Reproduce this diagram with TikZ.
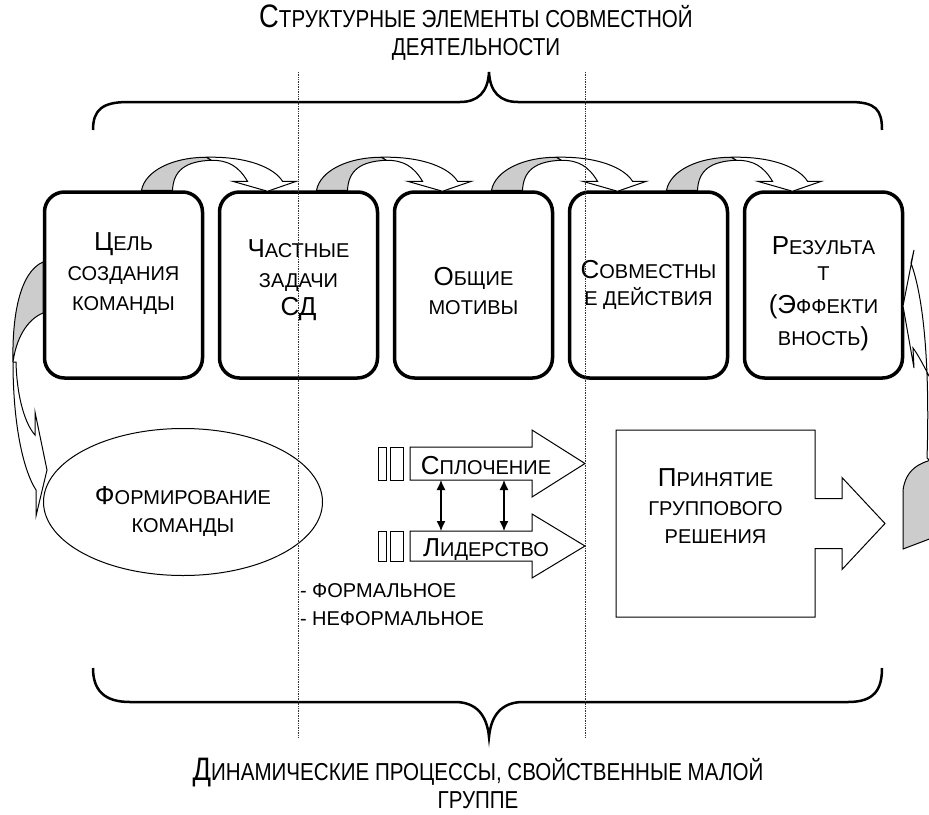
\documentclass[tikz,border=0pt]{standalone}
\usepackage{fontspec}
\setmainfont{Liberation Sans}
\newfontfamily\narrowfont{Liberation Sans}[FakeStretch=0.84]
\usetikzlibrary{arrows.meta}
\usetikzlibrary{calc}
\usetikzlibrary{positioning}
\usetikzlibrary{shapes.geometric}

\newcommand{\capletter}[1]{{\fontsize{26}{26}\selectfont #1}}
\newcommand{\titleletter}[1]{{\fontsize{32.5}{32.5}\selectfont #1}}

\tikzset{
	stage/.style={draw, line width=3.5pt, rounded corners=20pt, minimum width=158pt, minimum height=186pt, inner sep=0pt},
	txt/.style={inner sep=0pt, outer sep=0pt, align=center, font=\fontsize{20}{30}\selectfont},
	heading/.style={inner sep=0pt, align=center, font=\narrowfont\fontsize{24.5}{28}\selectfont},
	outline/.style={line width=1pt},
	backface/.style={outline, fill=gray!40},
	frontface/.style={outline, fill=white},
	bracket/.style={line width=2.5pt},
	guide/.style={densely dotted, line width=0.7pt, black!80},
	link/.style={{Latex[length=10pt,width=9pt]}-{Latex[length=10pt,width=9pt]}, line width=1.2pt},
	hop/.pic={
		\filldraw[backface] (18,0) .. controls (22,-20) and (50,-33) .. (83,-33) -- (88,-30) .. controls (62,-29) and (50,-20) .. (49,0) -- cycle;
		\filldraw[frontface] (83,-33) .. controls (125,-34) and (151,-22) .. (159,-9) -- (173,-9) -- (144,1) -- (109,-9) -- (124,-9) .. controls (115,-24) and (105,-30) .. (88,-30) -- cycle;
	}
}

\begin{document}
\begin{tikzpicture}[x=1pt, y=-1pt]
	\useasboundingbox (0,0) rectangle (929,814);
	\clip (0,0) rectangle (929,814);

	% headings and braces
	\node[heading] (top) at (476,33) {\titleletter{С}ТРУКТУРНЫЕ ЭЛЕМЕНТЫ СОВМЕСТНОЙ\\ДЕЯТЕЛЬНОСТИ};
	\node[heading] (bottom) at (478,783) {\titleletter{Д}ИНАМИЧЕСКИЕ ПРОЦЕССЫ, СВОЙСТВЕННЫЕ МАЛОЙ\\ГРУППЕ};
	\draw[bracket] (93,130) .. controls (93,110) and (102,102) .. (128,102) -- (460,102) .. controls (478,102) and (488,92) .. (489,72) .. controls (490,92) and (500,102) .. (518,102) -- (850,102) .. controls (876,102) and (882,110) .. (882,130);
	\draw[bracket] (93,668) .. controls (93,690) and (104,702) .. (130,702) -- (455,702) .. controls (476,702) and (487,715) .. (489,737) .. controls (491,715) and (502,702) .. (523,702) -- (848,702) .. controls (874,702) and (882,690) .. (882,668);

	% structural elements
	\node[stage] (goal) at (123.5,285) {};
	\node[stage, right=13.5pt of goal] (tasks) {};
	\node[stage, right=13.5pt of tasks] (motives) {};
	\node[stage, right=13.5pt of motives] (actions) {};
	\node[stage, right=13.5pt of actions] (result) {};
	\node[txt] (goaltext) at ($(goal)+(0,-11)$) {\capletter{Ц}ЕЛЬ\\СОЗДАНИЯ\\КОМАНДЫ};
	\node[txt] (taskstext) at ($(tasks)+(0,-5)$) {\capletter{Ч}АСТНЫЕ\\ЗАДАЧИ\\[-2pt]\capletter{СД}};
	\node[txt] (motivestext) at ($(motives)+(0,6)$) {\capletter{О}БЩИЕ\\[-1pt]МОТИВЫ};
	\node[txt] (actionstext) at ($(actions)+(0,0)$) {\capletter{С}ОВМЕСТНЫ\\[-3pt]Е ДЕЙСТВИЯ};
	\node[txt] (resulttext) at ($(result)+(0,9)$) {\capletter{Р}ЕЗУЛЬТА\\[-4pt]Т\\[3pt]\capletter{(Э}ФФЕКТИ\\[2pt]ВНОСТЬ\capletter{)}};
	\foreach \s in {goal,tasks,motives,actions}
		\pic at (\s.north) {hop};

	% side arrows
	\filldraw[frontface] (13,362) .. controls (13,420) and (22,468) .. (36,490) -- (36,516) -- (47,470) -- (35,412) -- (35,435) .. controls (26,425) and (17,400) .. (16,362) -- cycle;
	\filldraw[backface] (43,262) .. controls (20,272) and (12,315) .. (13,362) .. controls (16,340) and (26,320) .. (43,313) -- cycle;
	\filldraw[frontface] (940,470) -- (927,458) .. controls (929,400) and (928,310) .. (911,263) -- (914,250) -- (903,306) -- (914,368) -- (913,348) .. controls (922,360) and (930,380) .. (940,395) -- cycle;
	\filldraw[backface] (903,549) -- (903,490) .. controls (906,470) and (918,462) .. (940,458) -- (940,535) -- cycle;

	% dynamic processes
	\node[draw, outline, ellipse, minimum width=279pt, minimum height=147pt, inner sep=0pt] (forming) at (183,502) {};
	\node[txt, font=\fontsize{20}{28}\selectfont] (formingtext) at ($(forming)+(0,9)$) {\capletter{Ф}ОРМИРОВАНИЕ\\КОМАНДЫ};

	\node[minimum width=122pt, minimum height=33pt, inner sep=0pt, outer sep=0pt] (unity) at (471,463.5) {};
	\node[minimum width=122pt, minimum height=30pt, inner sep=0pt, outer sep=0pt] (lead) at (471,546) {};
	\foreach \n in {unity,lead} {
		\draw[outline] (\n.north west) -- (\n.north east) -- ($(\n.north east)+(0,-17)$) -- ($(\n.east)+(53,0)$) -- ($(\n.south east)+(0,17)$) -- (\n.south east) -- (\n.south west) -- cycle;
		\draw[outline] ($(\n.north west)+(-32,0)$) rectangle ($(\n.south west)+(-24,0)$);
		\draw[outline] ($(\n.north west)+(-20,0)$) rectangle ($(\n.south west)+(-7,0)$);
	}
	\node[txt] (unitytext) at ($(unity)+(15,2)$) {\capletter{С}ПЛОЧЕНИЕ};
	\node[txt] (leadtext) at ($(lead)+(15,4)$) {\capletter{Л}ИДЕРСТВО};
	\draw[link] ($(unity.south west)+(31,0)$) -- ($(lead.north west)+(31,0)$);
	\draw[link] ($(unity.south west)+(94,0)$) -- ($(lead.north west)+(94,0)$);

	\node[txt, font=\fontsize{20}{28}\selectfont, anchor=base west, align=left] (kinds) at (300,625) {- ФОРМАЛЬНОЕ\\- НЕФОРМАЛЬНОЕ};

	\node[minimum width=199pt, minimum height=187pt, inner sep=0pt, outer sep=0pt] (decision) at (715.5,523.5) {};
	\draw[outline] (decision.north west) -- (decision.north east) -- ($(decision.east)+(0,-25)$) -- ($(decision.east)+(27,-25)$) -- ($(decision.east)+(27,-46)$) -- ($(decision.east)+(70,0)$) -- ($(decision.east)+(27,46)$) -- ($(decision.east)+(27,25)$) -- ($(decision.east)+(0,25)$) -- (decision.south east) -- (decision.south west) -- cycle;
	\node[txt, font=\fontsize{20}{28.5}\selectfont] (decisiontext) at ($(decision)+(0,-17)$) {\capletter{П}РИНЯТИЕ\\ГРУППОВОГО\\РЕШЕНИЯ};

	% dotted guides
	\draw[guide] (298,72) -- (298,737);
	\draw[guide] (585,72) -- (585,737);
\end{tikzpicture}
\end{document}
